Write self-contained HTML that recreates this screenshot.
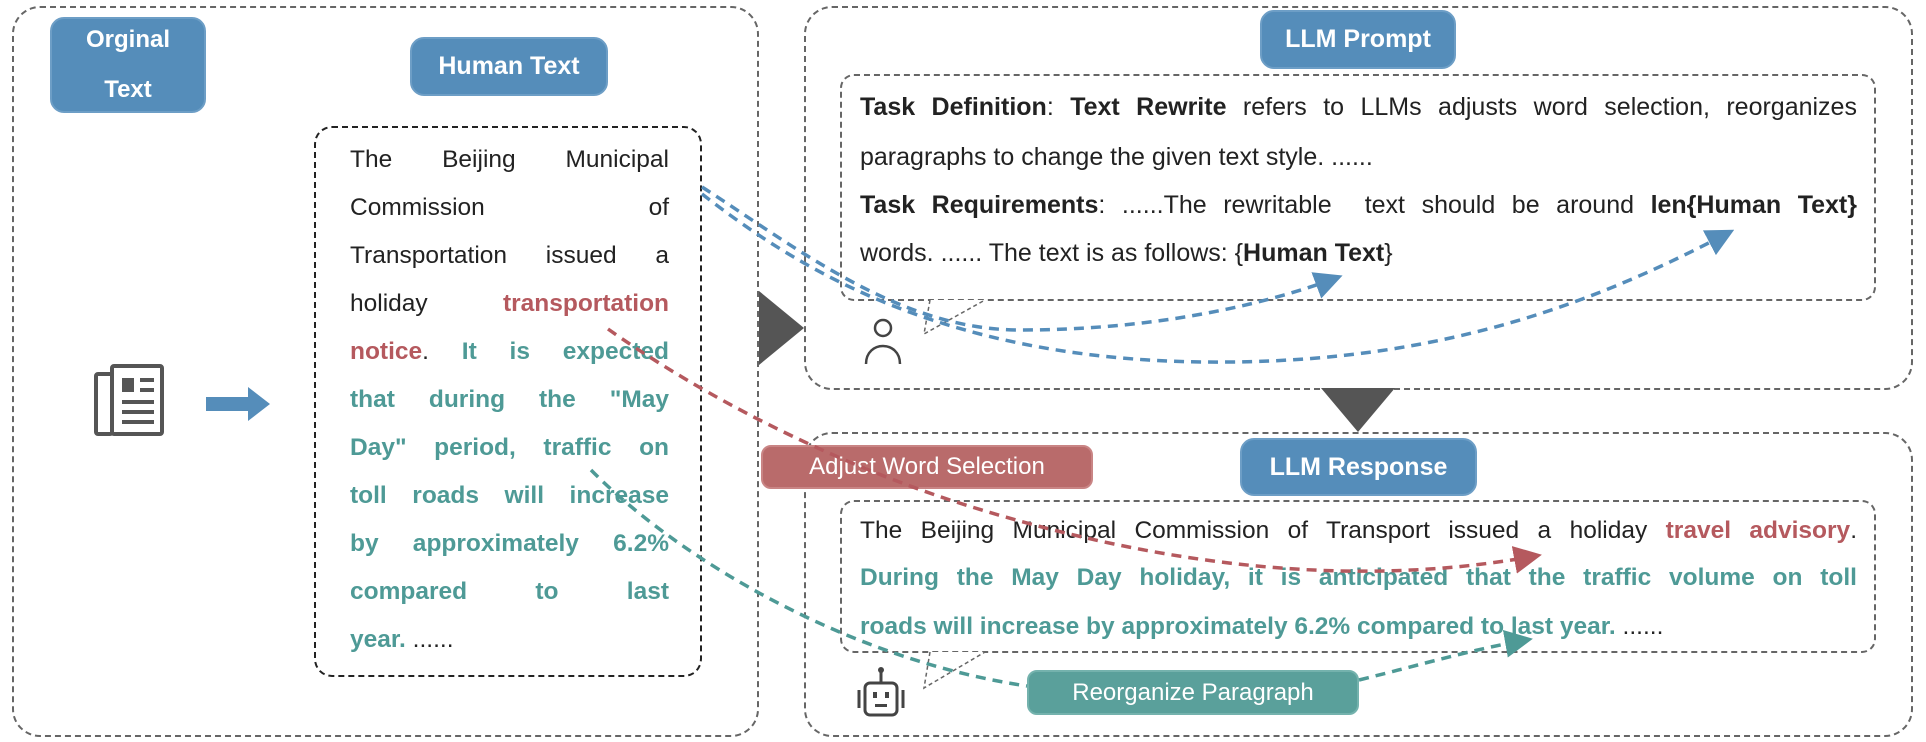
<!DOCTYPE html>
<html><head><meta charset="utf-8">
<style>
body{margin:0;width:1926px;height:742px;background:#fff;position:relative;overflow:hidden;font-family:"Liberation Sans",sans-serif;color:#222}
.a{position:absolute;box-sizing:border-box}
.dash{border:2px dashed #666;border-radius:28px}
.pill{background:#558dba;color:#fff;font-weight:bold;border-radius:14px;display:flex;align-items:center;justify-content:center;text-align:center;font-size:25px;border:2px solid #6d9ec6}
.ln{position:absolute;white-space:nowrap;text-align:justify;text-align-last:justify}
.r{color:#b5595e;font-weight:bold}
.g{color:#4e9a96;font-weight:bold}
</style></head><body>
<div class="a dash" style="left:12px;top:6px;width:747px;height:731px"></div>
<div class="a dash" style="left:804px;top:6px;width:1109px;height:384px"></div>
<div class="a dash" style="left:804px;top:432px;width:1109px;height:305px"></div>
<div class="a dash" style="left:314px;top:126px;width:388px;height:551px;border-radius:18px;border-color:#222"></div>
<div class="a dash" style="left:840px;top:74px;width:1036px;height:227px;border-radius:14px"></div>
<div class="a dash" style="left:840px;top:500px;width:1036px;height:153px;border-radius:14px"></div>

<div class="a pill" style="left:50px;top:17px;width:156px;height:96px;line-height:50px;font-size:24px">Orginal<br>Text</div>
<div class="a pill" style="left:410px;top:37px;width:198px;height:59px">Human Text</div>
<div class="a pill" style="left:1260px;top:10px;width:196px;height:59px">LLM Prompt</div>
<div class="a pill" style="left:1240px;top:438px;width:237px;height:58px">LLM Response</div>
<div class="a pill" style="left:761px;top:445px;width:332px;height:44px;background:#b96b6b;border-color:#c98585;font-weight:normal;font-size:24px;border-radius:10px">Adjust Word Selection</div>
<div class="a pill" style="left:1027px;top:670px;width:332px;height:45px;background:#5aa09b;border-color:#74b2ad;font-weight:normal;font-size:24px;border-radius:10px">Reorganize Paragraph</div>

<svg class="a" style="left:92px;top:362px" width="76" height="80" viewBox="0 0 76 80">
<rect x="4" y="12" width="16" height="60" fill="none" stroke="#555" stroke-width="4" rx="2"/>
<rect x="20" y="4" width="50" height="68" fill="#fff" stroke="#555" stroke-width="4" rx="2"/>
<rect x="30" y="16" width="12" height="14" fill="#555"/>
<path d="M48 18h14M48 28h14M30 40h32M30 50h32M30 60h32" stroke="#555" stroke-width="4"/>
</svg>
<svg class="a" style="left:206px;top:387px" width="66" height="34"><path d="M0 10h42V0l22 17-22 17V24H0z" fill="#558dba"/></svg>
<svg class="a" style="left:759px;top:291px" width="46" height="75"><path d="M0 0L45 37L0 74z" fill="#555"/></svg>
<svg class="a" style="left:1321px;top:388px" width="75" height="45"><path d="M0 0H74L37 44z" fill="#555"/></svg>

<div style="font-size:24.5px">
<div class="ln" style="left:350px;top:146px;width:319px">The Beijing Municipal</div>
<div class="ln" style="left:350px;top:194px;width:319px">Commission of</div>
<div class="ln" style="left:350px;top:242px;width:319px">Transportation issued a</div>
<div class="ln" style="left:350px;top:290px;width:319px">holiday <span class="r">transportation</span></div>
<div class="ln" style="left:350px;top:338px;width:319px"><span class="r">notice</span>. <span class="g">It is expected</span></div>
<div class="ln g" style="left:350px;top:386px;width:319px">that during the "May</div>
<div class="ln g" style="left:350px;top:434px;width:319px">Day" period, traffic on</div>
<div class="ln g" style="left:350px;top:482px;width:319px">toll roads will increase</div>
<div class="ln g" style="left:350px;top:530px;width:319px">by approximately 6.2%</div>
<div class="ln g" style="left:350px;top:578px;width:319px">compared to last</div>
<div class="ln" style="left:350px;top:626px;width:319px;text-align-last:left"><span class="g">year.</span> ......</div>
</div>

<div style="font-size:25px">
<div class="ln" style="left:860px;top:93px;width:997px"><b>Task Definition</b>: <b>Text Rewrite</b> refers to LLMs adjusts word selection, reorganizes</div>
<div class="ln" style="left:860px;top:143px;text-align-last:left">paragraphs to change the given text style. ......</div>
<div class="ln" style="left:860px;top:191px;width:997px"><b>Task Requirements</b>: ......The rewritable&nbsp; text should be around <b>len{Human Text}</b></div>
<div class="ln" style="left:860px;top:239px;text-align-last:left">words. ...... The text is as follows: {<b>Human Text</b>}</div>
</div>
<div style="font-size:24.5px">
<div class="ln" style="left:860px;top:517px;width:997px">The Beijing Municipal Commission of Transport issued a holiday <span class="r">travel advisory</span>.</div>
<div class="ln g" style="left:860px;top:564px;width:997px">During the May Day holiday, it is anticipated that the traffic volume on toll</div>
<div class="ln" style="left:860px;top:613px;text-align-last:left"><span class="g">roads will increase by approximately 6.2% compared to last year.</span> ......</div>
</div>

<svg class="a" style="left:0;top:0" width="1926" height="742">
<defs>
<marker id="mb" markerWidth="8" markerHeight="8" refX="6" refY="4" orient="auto"><path d="M0 0L8 4L0 8z" fill="#558dba"/></marker>
<marker id="mr" markerWidth="8" markerHeight="8" refX="6" refY="4" orient="auto"><path d="M0 0L8 4L0 8z" fill="#b5595e"/></marker>
<marker id="mg" markerWidth="8" markerHeight="8" refX="6" refY="4" orient="auto"><path d="M0 0L8 4L0 8z" fill="#4e9a96"/></marker>
</defs>
<path d="M930 300 L924 334 L985 300" fill="#fff" stroke="#666" stroke-width="1.5" stroke-dasharray="4 3"/>
<path d="M930 652 L924 688 L985 652" fill="#fff" stroke="#666" stroke-width="1.5" stroke-dasharray="4 3"/>
<circle cx="883" cy="328" r="8" fill="none" stroke="#444" stroke-width="2.5"/>
<path d="M866 364 C866 340 900 340 900 364" fill="none" stroke="#444" stroke-width="2.5"/>
<rect x="865" y="683" width="32" height="32" rx="5" fill="none" stroke="#444" stroke-width="3"/>
<line x1="881" y1="683" x2="881" y2="672" stroke="#444" stroke-width="3"/><circle cx="881" cy="670" r="3" fill="#444"/>
<rect x="873" y="692" width="4" height="6" fill="#444"/><rect x="885" y="692" width="4" height="6" fill="#444"/>
<rect x="875" y="704" width="12" height="3" fill="#444"/>
<line x1="859" y1="690" x2="859" y2="708" stroke="#444" stroke-width="3"/><line x1="903" y1="690" x2="903" y2="708" stroke="#444" stroke-width="3"/>
<g fill="none" stroke-width="3.5" stroke-dasharray="10 7">
<path d="M702 187 C800 250 900 330 1020 330 C1140 330 1250 310 1336 278" stroke="#558dba" marker-end="url(#mb)"/>
<path d="M702 194 C800 270 950 365 1230 362 C1450 360 1600 300 1728 233" stroke="#558dba" marker-end="url(#mb)"/>
<path d="M608 329 C680 380 800 450 950 500 C1150 565 1350 590 1535 556" stroke="#b5595e" marker-end="url(#mr)"/>
<path d="M591 470 C680 560 850 660 1027 686" stroke="#4e9a96"/>
<path d="M1359 680 C1420 665 1470 650 1526 640" stroke="#4e9a96" marker-end="url(#mg)"/>
</g>
</svg>
</body></html>
